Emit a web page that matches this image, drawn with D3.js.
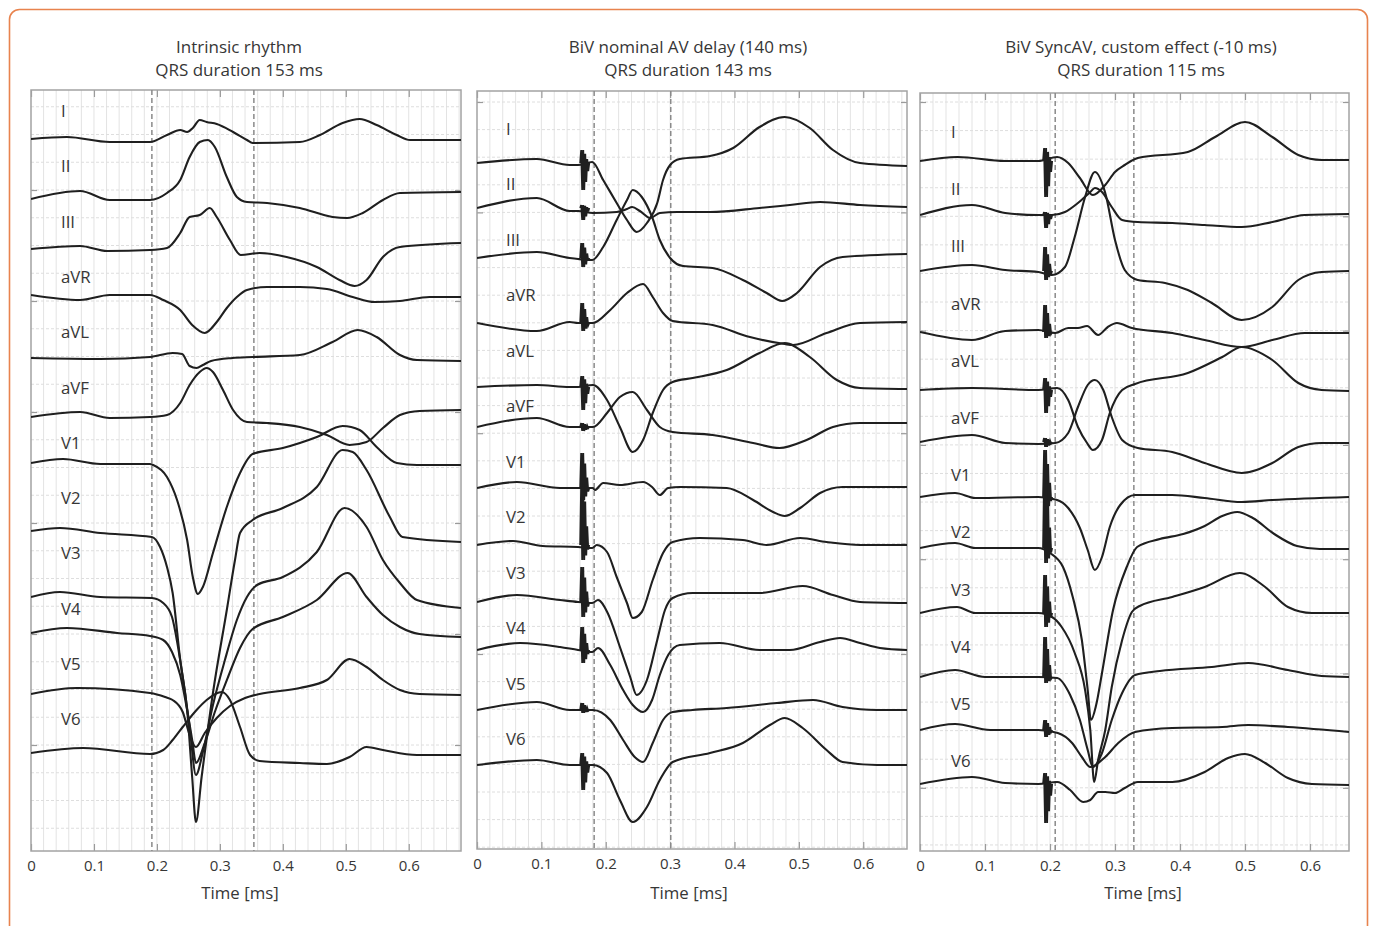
<!DOCTYPE html>
<html><head><meta charset="utf-8">
<script src="https://cdn.jsdelivr.net/npm/d3@7"></script>
<style>
html,body{margin:0;padding:0;background:#fff;}
svg{display:block;font-family:"Open Sans",sans-serif;}
</style></head><body>
<svg id="chart" width="1375" height="926"></svg>
<script>
// ---------------- DATA ----------------
const leadNames = ["I","II","III","aVR","aVL","aVF","V1","V2","V3","V4","V5","V6"];
const timeTicks = [0,0.1,0.2,0.3,0.4,0.5,0.6];
const titleIntrinsic = ["Intrinsic rhythm","QRS duration 153 ms"];
const titleNominal = ["BiV nominal AV delay (140 ms)","QRS duration 143 ms"];
const titleSync = ["BiV SyncAV, custom effect (-10 ms)","QRS duration 115 ms"];
const axisTitle = "Time [ms]";
const qrsIntrinsic = [0.192,0.354];
const qrsNominal = [0.182,0.301];
const qrsSync = [0.208,0.329];
// lead baselines (amplitude units, 0 = top of plot)
const baselineIntrinsic = [-4.9,-10.9,-15.9,-20.5,-26.8,-32.7,-37.3,-44.1,-50.7,-54.3,-60.4,-66.3];
const baselineNominal   = [-7.2,-11.7,-16.7,-23.2,-29.6,-33.6,-39.7,-45.4,-51.1,-55.9,-61.9,-67.4];
const baselineSync      = [-6.8,-12.2,-17.8,-23.9,-29.7,-34.9,-40.4,-45.5,-52.0,-58.4,-63.7,-69.1];
// pacing spikes: time and [top, bottom] amplitude per lead
const pacingTimeNominal = 0.165;
const pacingTimeSync = 0.194;
const spikeNominal = [[1.3,-2.7],[0.3,-1.2],[1.5,-0.9],[2.0,-0.8],[1.1,-2.3],[0.4,-0.4],[3.5,-1.2],[6.2,-1.5],[3.5,-1.5],[2.3,-1.3],[0.7,-0.3],[1.2,-2.5]];
const spikeSync    = [[1.3,-3.6],[0.3,-1.3],[2.4,-0.9],[2.7,-0.6],[1.2,-2.3],[0.4,-0.5],[4.7,-1.3],[6.8,-1.5],[3.8,-1.4],[4.0,-0.6],[1.0,-0.7],[1.1,-3.9]];

// traces: [time, amplitude relative to lead baseline]
const tracesIntrinsic = [
 [[0,0],[0.057,0.2],[0.125,-0.3],[0.189,-0.3],[0.216,0.4],[0.237,0.9],[0.248,0.7],[0.257,1.1],[0.268,1.9],[0.279,1.7],[0.295,1.5],[0.321,0.7],[0.343,-0.1],[0.352,-0.4],[0.427,-0.3],[0.459,0.4],[0.495,1.6],[0.522,2.0],[0.549,1.4],[0.581,0.4],[0.602,-0.1],[0.683,-0.1]],
 [[0,0],[0.078,0.8],[0.125,-0.1],[0.189,-0.1],[0.216,0.6],[0.237,1.9],[0.252,4.2],[0.268,5.7],[0.281,5.9],[0.292,5.2],[0.311,2.2],[0.327,0.2],[0.343,-0.3],[0.375,-0.4],[0.427,-0.9],[0.479,-1.8],[0.502,-1.9],[0.527,-1.4],[0.559,-0.1],[0.586,0.6],[0.683,0.7]],
 [[0,0],[0.078,0.3],[0.121,-0.2],[0.189,-0.1],[0.216,0.1],[0.237,1.6],[0.252,3.2],[0.268,3.4],[0.284,4.1],[0.295,3.2],[0.316,0.9],[0.333,-0.6],[0.363,-0.4],[0.406,-0.8],[0.454,-1.8],[0.490,-3.1],[0.514,-3.7],[0.533,-3.1],[0.559,-0.8],[0.586,0.2],[0.683,0.6]],
 [[0,0],[0.078,-0.5],[0.125,0],[0.189,0],[0.21,-0.5],[0.237,-1.5],[0.256,-3.0],[0.276,-3.8],[0.295,-2.7],[0.311,-1.3],[0.327,-0.2],[0.343,0.5],[0.375,0.8],[0.427,0.8],[0.47,0.6],[0.511,-0.2],[0.546,-0.7],[0.586,-0.6],[0.633,-0.2],[0.683,-0.2]],
 [[0,0],[0.11,-0.1],[0.189,0.1],[0.225,0.5],[0.24,0.4],[0.252,-0.8],[0.263,-1.0],[0.273,-0.7],[0.286,-0.3],[0.32,0],[0.352,0.1],[0.427,0.3],[0.479,1.6],[0.519,2.8],[0.549,2.1],[0.586,0.3],[0.613,-0.2],[0.683,-0.3]],
 [[0,0],[0.078,0.5],[0.125,-0.1],[0.189,0],[0.216,0.2],[0.237,1.4],[0.252,3.2],[0.268,4.5],[0.279,4.9],[0.289,4.5],[0.305,2.7],[0.321,0.7],[0.343,-0.5],[0.375,-0.6],[0.427,-1.0],[0.47,-1.8],[0.506,-2.8],[0.533,-2.5],[0.559,-1.1],[0.586,0.2],[0.617,0.6],[0.683,0.7]],
 [[0,0],[0.051,0.4],[0.11,-0.1],[0.189,-0.1],[0.194,-0.2],[0.216,-1.4],[0.232,-3.7],[0.248,-7.7],[0.257,-11.4],[0.265,-13.1],[0.273,-12.4],[0.289,-9.0],[0.311,-4.4],[0.332,-1.0],[0.352,0.9],[0.4,1.5],[0.454,2.6],[0.495,3.7],[0.522,3.3],[0.549,1.6],[0.581,0],[0.613,-0.2],[0.683,-0.2]],
 [[0,0],[0.046,0.3],[0.11,-0.2],[0.192,-0.6],[0.205,-1.6],[0.216,-3.6],[0.225,-6.2],[0.237,-12.9],[0.248,-17.9],[0.256,-24.6],[0.262,-29.1],[0.271,-24.6],[0.289,-16.2],[0.311,-7.9],[0.324,-2.9],[0.332,-0.2],[0.352,1.1],[0.4,2.3],[0.454,4.4],[0.495,8.1],[0.511,7.9],[0.533,6.1],[0.57,1.4],[0.59,-0.6],[0.683,-1.1]],
 [[0,0],[0.046,0.5],[0.11,0],[0.192,-0.1],[0.21,-0.6],[0.224,-2.0],[0.233,-4.8],[0.244,-9.3],[0.252,-13.0],[0.262,-17.8],[0.273,-15.5],[0.289,-10.8],[0.308,-6.3],[0.327,-2.3],[0.343,0],[0.359,1.2],[0.4,2.0],[0.454,4.5],[0.498,8.9],[0.533,7.0],[0.559,3.7],[0.586,1.4],[0.613,-0.3],[0.683,-1.1]],
 [[0,0],[0.057,0.5],[0.137,0],[0.189,-0.3],[0.21,-0.7],[0.224,-1.9],[0.237,-4.2],[0.248,-7.7],[0.256,-10.7],[0.262,-13.0],[0.275,-11.2],[0.292,-7.9],[0.313,-4.4],[0.332,-1.5],[0.352,0.4],[0.4,1.6],[0.454,3.3],[0.503,6.0],[0.533,3.6],[0.559,1.8],[0.586,0.6],[0.617,-0.1],[0.683,-0.4]],
 [[0,0],[0.073,0.6],[0.189,0.1],[0.213,-0.3],[0.225,-0.6],[0.241,-1.8],[0.252,-4.1],[0.262,-5.3],[0.276,-3.9],[0.295,-2.4],[0.316,-1.2],[0.34,-0.4],[0.363,0],[0.427,0.6],[0.47,1.4],[0.506,3.5],[0.533,2.7],[0.559,1.4],[0.586,0.4],[0.617,0],[0.683,-0.1]],
 [[0,0],[0.083,0.5],[0.189,-0.1],[0.21,0.3],[0.225,1.3],[0.241,2.6],[0.263,4.3],[0.279,5.3],[0.303,6.1],[0.316,5.3],[0.332,2.6],[0.348,-0.2],[0.363,-0.8],[0.427,-1.0],[0.47,-1.1],[0.506,-0.4],[0.533,0.6],[0.559,0.3],[0.613,-0.2],[0.683,-0.2]]
];

const tracesNominal = [
 [[0,0],[0.093,0.4],[0.144,-0.2],[0.157,-0.2],[0.179,0.1],[0.196,-1.7],[0.217,-4.0],[0.233,-5.7],[0.248,-6.9],[0.264,-6.0],[0.28,-4.0],[0.289,-1.7],[0.3,-0.2],[0.315,0.4],[0.362,0.7],[0.398,1.5],[0.439,3.6],[0.478,4.6],[0.517,3.5],[0.553,1.3],[0.595,0],[0.668,-0.3]],
 [[0,0],[0.093,1.0],[0.144,-0.3],[0.157,-0.3],[0.18,-0.5],[0.217,-0.4],[0.233,-0.1],[0.241,0.1],[0.253,-0.3],[0.269,-1.0],[0.284,-0.5],[0.311,-0.4],[0.362,-0.4],[0.439,0],[0.486,0.3],[0.533,0.6],[0.595,0.3],[0.668,0.1]],
 [[0,0],[0.093,0.6],[0.144,0],[0.157,-0.1],[0.179,-0.2],[0.196,1.1],[0.217,3.8],[0.233,5.8],[0.242,6.8],[0.256,6.1],[0.272,4.1],[0.284,1.8],[0.3,0],[0.32,-0.8],[0.366,-1.0],[0.413,-2.2],[0.45,-3.5],[0.474,-4.3],[0.497,-3.5],[0.533,-0.9],[0.568,0.1],[0.668,0.4]],
 [[0,0],[0.093,-0.8],[0.144,0.1],[0.157,0],[0.18,0],[0.207,1.3],[0.233,3.0],[0.258,3.9],[0.273,2.6],[0.289,1.0],[0.304,0.2],[0.366,-0.2],[0.424,-1.4],[0.478,-2.1],[0.491,-2.2],[0.543,-1.0],[0.595,0],[0.668,0.1]],
 [[0,0],[0.093,0.2],[0.144,0],[0.157,0],[0.18,0.2],[0.202,-1.3],[0.222,-4.0],[0.242,-6.5],[0.258,-5.3],[0.273,-2.6],[0.289,-0.3],[0.304,0.5],[0.335,0.9],[0.388,1.7],[0.439,3.4],[0.478,4.4],[0.517,3.0],[0.559,0.7],[0.595,-0.1],[0.668,-0.2]],
 [[0,0],[0.093,0.9],[0.144,0],[0.157,0],[0.18,0],[0.202,1.4],[0.222,3.0],[0.242,3.5],[0.264,1.7],[0.284,0],[0.304,-0.5],[0.366,-0.8],[0.429,-1.6],[0.47,-2.1],[0.512,-1.3],[0.553,0],[0.595,0.4],[0.668,0.4]],
 [[0,0],[0.062,0.6],[0.129,0],[0.157,0],[0.18,0],[0.183,-0.2],[0.196,0.5],[0.222,0.3],[0.258,0.6],[0.272,0.1],[0.284,-0.7],[0.297,0],[0.315,0.1],[0.388,0],[0.429,-1.2],[0.46,-2.4],[0.478,-2.8],[0.502,-2.0],[0.533,-0.5],[0.568,0.1],[0.668,0.1]],
 [[0,0],[0.056,0.4],[0.102,-0.1],[0.157,-0.2],[0.179,-0.3],[0.186,0],[0.202,-0.7],[0.217,-3.2],[0.233,-5.8],[0.242,-7.3],[0.256,-6.7],[0.273,-3.5],[0.289,-0.8],[0.304,0.3],[0.346,0.7],[0.413,0.5],[0.45,0],[0.502,0.7],[0.543,0.3],[0.595,0],[0.668,0]],
 [[0,0],[0.062,0.7],[0.129,0.2],[0.157,0],[0.179,-0.1],[0.188,0.2],[0.203,-1.1],[0.222,-4.5],[0.238,-7.5],[0.248,-9.3],[0.264,-7.8],[0.28,-3.8],[0.292,-0.8],[0.304,0.4],[0.335,0.9],[0.439,0.9],[0.506,1.6],[0.553,0.7],[0.595,0],[0.668,-0.1]],
 [[0,0],[0.067,0.7],[0.129,0.3],[0.157,0],[0.179,-0.2],[0.188,0.2],[0.207,-1.5],[0.227,-4.0],[0.242,-5.5],[0.258,-6.2],[0.272,-5.0],[0.284,-2.5],[0.297,-0.5],[0.315,0.5],[0.377,0.7],[0.439,0],[0.486,0],[0.533,0.8],[0.564,1.2],[0.595,0.7],[0.626,0.2],[0.668,0]],
 [[0,0],[0.093,0.8],[0.144,0],[0.157,0],[0.18,0],[0.207,-1.0],[0.227,-3.0],[0.245,-4.7],[0.258,-5.2],[0.273,-3.3],[0.289,-1.0],[0.304,-0.2],[0.335,0],[0.388,0.2],[0.466,0.7],[0.522,1.0],[0.568,0.3],[0.621,0],[0.668,0]],
 [[0,0],[0.093,0.5],[0.144,0],[0.157,0],[0.18,0],[0.202,-0.8],[0.222,-3.5],[0.242,-5.7],[0.264,-4.2],[0.284,-1.5],[0.304,0.3],[0.362,1.2],[0.413,2.2],[0.455,4.0],[0.478,4.7],[0.506,3.7],[0.543,1.5],[0.568,0.3],[0.621,0],[0.668,0]]
];

const tracesSync = [
 [[0,0],[0.058,0.4],[0.131,0],[0.182,0],[0.211,0.4],[0.228,-0.2],[0.246,-1.7],[0.266,-3.4],[0.285,-2.4],[0.3,-1.1],[0.315,-0.4],[0.335,0.3],[0.412,0.9],[0.454,2.4],[0.5,3.9],[0.542,2.4],[0.582,0.6],[0.618,0.1],[0.66,0.1]],
 [[0,0],[0.08,1.0],[0.131,0.2],[0.182,0],[0.203,0],[0.223,0.3],[0.243,1.2],[0.262,2.3],[0.269,2.7],[0.28,2.3],[0.295,0.8],[0.311,-0.5],[0.335,-0.7],[0.388,-0.8],[0.438,-1.0],[0.495,-1.2],[0.542,-0.7],[0.592,0],[0.66,0.1]],
 [[0,0],[0.08,0.6],[0.131,0.1],[0.182,-0.1],[0.203,-0.4],[0.223,0.4],[0.238,3.4],[0.254,7.4],[0.269,9.9],[0.285,7.8],[0.3,3.1],[0.315,0.1],[0.335,-0.9],[0.377,-1.2],[0.412,-1.9],[0.449,-3.2],[0.495,-4.9],[0.542,-3.6],[0.582,-0.9],[0.618,-0.1],[0.66,0]],
 [[0,0],[0.08,-0.8],[0.131,0.1],[0.182,0.2],[0.208,-0.1],[0.228,0.4],[0.243,0.4],[0.257,0.6],[0.274,-0.3],[0.289,0.5],[0.303,0.9],[0.326,0.4],[0.388,-0.1],[0.438,-0.8],[0.495,-1.5],[0.542,-0.8],[0.592,-0.1],[0.66,-0.1]],
 [[0,0],[0.08,0.2],[0.182,0],[0.211,0.2],[0.228,-1.0],[0.243,-3.7],[0.257,-5.3],[0.266,-6.0],[0.28,-5.0],[0.292,-2.3],[0.311,0],[0.331,0.6],[0.412,1.7],[0.465,3.3],[0.495,4.3],[0.542,3.0],[0.582,0.7],[0.618,0],[0.66,-0.1]],
 [[0,0],[0.08,0.7],[0.131,-0.1],[0.182,-0.2],[0.208,-0.1],[0.228,0.9],[0.243,3.5],[0.258,5.7],[0.269,6.2],[0.282,5.2],[0.295,2.5],[0.311,0.2],[0.335,-0.6],[0.388,-1.0],[0.438,-2.1],[0.495,-3.1],[0.542,-2.1],[0.582,-0.5],[0.618,-0.1],[0.66,-0.1]],
 [[0,0],[0.054,0.4],[0.085,-0.1],[0.182,0],[0.211,-0.3],[0.228,-1.1],[0.246,-3.1],[0.258,-5.3],[0.269,-7.3],[0.28,-6.0],[0.292,-3.0],[0.308,-0.8],[0.331,0.2],[0.388,0.2],[0.438,-0.1],[0.495,-0.5],[0.542,-0.3],[0.66,0]],
 [[0,0],[0.054,0.5],[0.085,0],[0.182,0],[0.2,-0.5],[0.22,-1.9],[0.235,-4.9],[0.249,-9.2],[0.258,-14.2],[0.263,-17.2],[0.271,-15.7],[0.28,-12.5],[0.297,-6.2],[0.318,-1.9],[0.334,0.1],[0.369,0.9],[0.405,1.4],[0.438,2.2],[0.465,3.2],[0.488,3.6],[0.512,3.0],[0.545,1.4],[0.58,0.2],[0.615,-0.1],[0.66,-0.1]],
 [[0,0],[0.057,0.6],[0.085,0],[0.182,0],[0.203,-0.4],[0.218,-1.4],[0.238,-4.0],[0.254,-7.7],[0.262,-11.7],[0.268,-16.9],[0.274,-14.7],[0.285,-11.7],[0.295,-7.4],[0.311,-2.7],[0.326,0.1],[0.338,0.7],[0.388,1.6],[0.438,2.6],[0.492,4.0],[0.531,2.6],[0.566,0.6],[0.603,0],[0.66,0]],
 [[0,0],[0.054,0.7],[0.1,0],[0.182,0],[0.211,-0.1],[0.231,-1.8],[0.246,-4.3],[0.258,-7.3],[0.266,-9.0],[0.28,-7.6],[0.295,-4.3],[0.311,-1.6],[0.331,0.2],[0.369,0.6],[0.449,1.0],[0.505,1.4],[0.566,0.7],[0.618,0.1],[0.66,0]],
 [[0,0],[0.054,0.6],[0.108,0],[0.182,0],[0.212,-0.3],[0.234,-1.3],[0.249,-2.7],[0.262,-3.7],[0.285,-2.7],[0.305,-1.3],[0.331,-0.2],[0.388,0.2],[0.465,0.3],[0.505,0.5],[0.566,0.3],[0.66,-0.2]],
 [[0,0],[0.08,0.7],[0.131,0.1],[0.182,0],[0.211,0.2],[0.231,-0.6],[0.251,-1.8],[0.262,-1.6],[0.274,-0.8],[0.285,-0.8],[0.3,-0.9],[0.315,-0.4],[0.335,0.2],[0.388,0.2],[0.438,1.2],[0.474,2.6],[0.5,3.0],[0.531,2.1],[0.566,0.6],[0.603,0],[0.66,-0.1]]
];

// ---------------- LAYOUT / STYLE ----------------
const panels = [
  {titles:titleIntrinsic, traces:tracesIntrinsic, base:baselineIntrinsic, qrs:qrsIntrinsic, spikeT:null, spikes:null,
   x0:31, x1:461, top:90, bottom:851, tMax:0.683, gridFirst:-10.0, gridStep:11.1,
   labelX:61, labelY0:117, labelDy:55.3, titleX:239, axisTitleX:240},
  {titles:titleNominal, traces:tracesNominal, base:baselineNominal, qrs:qrsNominal, spikeT:pacingTimeNominal, spikes:spikeNominal,
   x0:477, x1:907, top:91, bottom:849, tMax:0.668, gridFirst:-1.1, gridStep:11.04,
   labelX:506, labelY0:135, labelDy:55.45, titleX:688, axisTitleX:689},
  {titles:titleSync, traces:tracesSync, base:baselineSync, qrs:qrsSync, spikeT:pacingTimeSync, spikes:spikeSync,
   x0:920, x1:1349, top:93, bottom:851, tMax:0.66, gridFirst:-0.9, gridStep:11.43,
   labelX:951, labelY0:138, labelDy:57.2, titleX:1141, axisTitleX:1143}
];

const TEXT = "#363636", TRACE = "#1f1f1f";
const svg = d3.select("#chart");

// outer orange frame
svg.append("rect").attr("x",9.5).attr("y",9.5).attr("width",1358).attr("height",1000)
  .attr("rx",10).attr("fill","none").attr("stroke","#E8834E").attr("stroke-width",1.6);

const fmt = d => d === 0 ? "0" : d3.format(".1f")(d);

panels.forEach((p, pi) => {
  const x = d3.scaleLinear().domain([0, p.tMax]).range([p.x0, p.x1]);
  const y = d3.scaleLinear().domain([0, -(p.bottom - p.top) / 10]).range([p.top, p.bottom]);
  const yMin = y.domain()[1];
  const g = svg.append("g");

  const clipId = "clip" + pi;
  svg.append("clipPath").attr("id", clipId).append("rect")
    .attr("x", p.x0).attr("y", p.top).attr("width", p.x1 - p.x0).attr("height", p.bottom - p.top);

  // grid
  const grid = g.append("g");
  const vLines = d3.range(0.02, p.tMax, 0.02);
  grid.selectAll("line.v").data(vLines).join("line")
    .attr("x1", d => x(d)).attr("x2", d => x(d)).attr("y1", p.top).attr("y2", p.bottom)
    .attr("stroke", "#e3e3e3").attr("stroke-width", 1);
  const minorStep = p.gridStep / 4;
  const hLines = [];
  for (let v = p.gridFirst; v > yMin; v -= minorStep) hLines.push(v);
  for (let v = p.gridFirst + minorStep; v < 0; v += minorStep) hLines.push(v);
  grid.selectAll("line.h").data(hLines).join("line")
    .attr("x1", p.x0).attr("x2", p.x1).attr("y1", d => y(d)).attr("y2", d => y(d))
    .attr("stroke", "#dedede").attr("stroke-width", 1).attr("stroke-dasharray", "3,2");

  // axes ticks
  const majors = [];
  for (let v = p.gridFirst; v > yMin; v -= p.gridStep) majors.push(v);
  const tickColor = "#9a9a9a";
  const bottomAxis = g.append("g").attr("transform", `translate(0,${p.bottom})`)
    .call(d3.axisBottom(x).tickValues(timeTicks).tickSize(-7).tickPadding(9).tickFormat(fmt));
  const topAxis = g.append("g").attr("transform", `translate(0,${p.top})`)
    .call(d3.axisTop(x).tickValues(timeTicks).tickSize(-7).tickFormat(""));
  const leftAxis = g.append("g").attr("transform", `translate(${p.x0},0)`)
    .call(d3.axisLeft(y).tickValues(majors).tickSize(-6).tickFormat(""));
  const rightAxis = g.append("g").attr("transform", `translate(${p.x1},0)`)
    .call(d3.axisRight(y).tickValues(majors).tickSize(-6).tickFormat(""));
  [bottomAxis, topAxis, leftAxis, rightAxis].forEach(a => {
    a.select(".domain").remove();
    a.selectAll(".tick line").attr("stroke", tickColor).attr("stroke-width", 1.2);
  });
  bottomAxis.selectAll(".tick text").attr("fill", TEXT).attr("font-size", "15px")
    .attr("font-family", '"Open Sans",sans-serif');

  // frame
  g.append("rect").attr("x", p.x0).attr("y", p.top).attr("width", p.x1 - p.x0).attr("height", p.bottom - p.top)
    .attr("fill", "none").attr("stroke", "#a3a3a3").attr("stroke-width", 1.5);

  // QRS markers
  g.selectAll("line.qrs").data(p.qrs).join("line")
    .attr("x1", d => x(d)).attr("x2", d => x(d)).attr("y1", p.top).attr("y2", p.bottom)
    .attr("stroke", "#8a8a8a").attr("stroke-width", 1.5).attr("stroke-dasharray", "5,3");

  // traces
  const tg = g.append("g").attr("clip-path", `url(#${clipId})`);
  p.traces.forEach((tr, li) => {
    const line = d3.line().x(d => x(d[0])).y(d => y(p.base[li] + d[1])).curve(d3.curveMonotoneX);
    tg.append("path").attr("d", line(tr)).attr("fill", "none")
      .attr("stroke", TRACE).attr("stroke-width", 2.1).attr("stroke-linejoin", "round");
  });

  // pacing spikes
  if (p.spikes) {
    p.spikes.forEach((s, li) => {
      const xc = x(p.spikeT), yb = y(p.base[li]), yHi = y(p.base[li] + s[0]), yLo = y(p.base[li] + s[1]);
      const pts = [[xc-3, yb],[xc-2, yHi],[xc-1, yLo],[xc, yHi],[xc+1, yLo],[xc+2, yb+(yHi-yb)*0.7],
                   [xc+3, yb+(yLo-yb)*0.7],[xc+4, yb+(yHi-yb)*0.3],[xc+5, yb+(yLo-yb)*0.3],[xc+6, yb]];
      tg.append("path").attr("d", d3.line()(pts)).attr("fill", "none")
        .attr("stroke", TRACE).attr("stroke-width", 1.9);
    });
  }

  // lead labels
  g.selectAll("text.lead").data(leadNames).join("text")
    .attr("x", p.labelX).attr("y", (d, i) => p.labelY0 + i * p.labelDy)
    .attr("fill", TEXT).attr("font-size", "16.8px").text(d => d);

  // titles
  g.selectAll("text.title").data(p.titles).join("text")
    .attr("x", p.titleX).attr("y", (d, i) => 53 + i * 23)
    .attr("text-anchor", "middle").attr("fill", TEXT).attr("font-size", "17px").text(d => d);

  g.append("text").attr("x", p.axisTitleX).attr("y", 899).attr("text-anchor", "middle")
    .attr("fill", TEXT).attr("font-size", "16.8px").text(axisTitle);
});
</script>
</body></html>
